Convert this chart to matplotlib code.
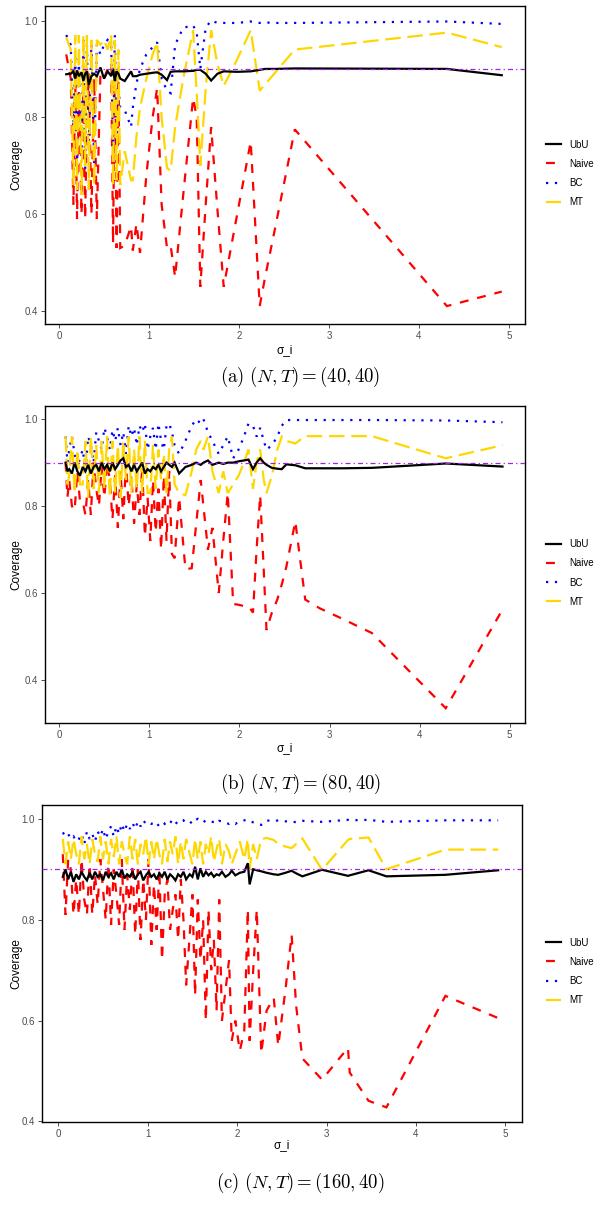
import matplotlib
matplotlib.use('Agg')
import matplotlib.pyplot as plt
from matplotlib.lines import Line2D

plt.rcParams['font.family'] = ['Liberation Sans', 'DejaVu Sans']
plt.rcParams['mathtext.fontset'] = 'cm'

series_names = ['UbU', 'Naive', 'BC', 'MT']
y_ticks = [0.4, 0.6, 0.8, 1.0]
y_tick_labels = ['0.4', '0.6', '0.8', '1.0']
x_ticks = [0, 1, 2, 3, 4, 5]
x_tick_labels = ['0', '1', '2', '3', '4', '5']
target_level = 0.9
captions = [r'$\mathrm{(a)}\ (N,T) = (40,40)$',
            r'$\mathrm{(b)}\ (N,T) = (80,40)$',
            r'$\mathrm{(c)}\ (N,T) = (160,40)$']

# ---------------- panel (a) ----------------
xa = [0.08, 0.13, 0.16, 0.18, 0.20, 0.22, 0.25, 0.27, 0.29, 0.31,
      0.33, 0.36, 0.39, 0.42, 0.46, 0.50, 0.54, 0.58, 0.60, 0.62,
      0.64, 0.66, 0.68, 0.73, 0.80, 0.82, 0.86, 0.90, 0.97, 1.04,
      1.09, 1.14, 1.20, 1.24, 1.29, 1.38, 1.49, 1.53, 1.57, 1.63,
      1.69, 1.76, 1.83, 1.98, 2.13, 2.23, 2.29, 2.40, 2.62, 4.31,
      4.92]
ubu_a = [0.889, 0.890, 0.895, 0.880, 0.897, 0.885, 0.893, 0.875, 0.890, 0.895,
         0.867, 0.885, 0.890, 0.885, 0.903, 0.880, 0.895, 0.885, 0.900, 0.875,
         0.895, 0.890, 0.880, 0.875, 0.895, 0.885, 0.885, 0.888, 0.890, 0.892,
         0.893, 0.888, 0.877, 0.894, 0.895, 0.895, 0.896, 0.898, 0.898, 0.890,
         0.876, 0.890, 0.895, 0.894, 0.895, 0.898, 0.900, 0.900, 0.901, 0.900,
         0.887]
naive_a = [0.93, 0.88, 0.62, 0.88, 0.59, 0.86, 0.60, 0.87, 0.59, 0.80,
           0.89, 0.60, 0.88, 0.59, 0.89, 0.88, 0.90, 0.91, 0.54, 0.89,
           0.53, 0.88, 0.53, 0.535, 0.575, 0.525, 0.58, 0.52, 0.68, 0.80,
           0.86, 0.62, 0.53, 0.535, 0.47, 0.64, 0.84, 0.80, 0.45, 0.62,
           0.78, 0.61, 0.45, 0.60, 0.75, 0.41, 0.47, 0.57, 0.775, 0.41,
           0.44]
bc_a = [0.97, 0.95, 0.78, 0.93, 0.70, 0.92, 0.72, 0.96, 0.69, 0.95,
        0.74, 0.96, 0.70, 0.95, 0.93, 0.95, 0.96, 0.95, 0.72, 0.97,
        0.74, 0.86, 0.82, 0.815, 0.78, 0.82, 0.87, 0.90, 0.93, 0.945,
        0.955, 0.88, 0.855, 0.85, 0.95, 0.985, 0.99, 0.975, 0.90, 0.985,
        1.0, 0.995, 0.995, 0.995, 0.998, 0.995, 0.996, 0.995, 0.995, 0.998,
        0.993]
mt_a = [0.965, 0.94, 0.66, 0.97, 0.65, 0.97, 0.64, 0.97, 0.70, 0.97,
        0.65, 0.96, 0.66, 0.96, 0.95, 0.96, 0.94, 0.97, 0.66, 0.96,
        0.67, 0.94, 0.66, 0.73, 0.67, 0.67, 0.76, 0.82, 0.88, 0.93,
        0.955, 0.80, 0.695, 0.69, 0.78, 0.88, 0.98, 0.85, 0.70, 0.86,
        0.98, 0.91, 0.865, 0.92, 0.98, 0.855, 0.868, 0.892, 0.94, 0.975,
        0.945]

# ---------------- panel (b) ----------------
xb = [0.07, 0.09, 0.11, 0.14, 0.17, 0.20, 0.23, 0.26, 0.29, 0.32,
      0.35, 0.38, 0.41, 0.44, 0.47, 0.50, 0.53, 0.56, 0.59, 0.62,
      0.65, 0.68, 0.71, 0.74, 0.77, 0.80, 0.83, 0.86, 0.89, 0.92,
      0.95, 0.98, 1.01, 1.04, 1.07, 1.10, 1.13, 1.16, 1.19, 1.22,
      1.25, 1.28, 1.33, 1.40, 1.47, 1.52, 1.57, 1.60, 1.65, 1.70,
      1.77, 1.82, 1.87, 1.93, 1.99, 2.05, 2.10, 2.15, 2.19, 2.23,
      2.27, 2.30, 2.36, 2.42, 2.47, 2.52, 2.62, 2.73, 2.89, 3.15,
      3.47, 4.29, 4.92]
ubu_b = [0.90, 0.88, 0.885, 0.875, 0.90, 0.88, 0.87, 0.89, 0.88, 0.895,
         0.875, 0.89, 0.895, 0.88, 0.90, 0.885, 0.895, 0.88, 0.90, 0.885,
         0.895, 0.905, 0.91, 0.89, 0.895, 0.88, 0.895, 0.88, 0.89, 0.90,
         0.875, 0.885, 0.88, 0.89, 0.885, 0.895, 0.88, 0.89, 0.90, 0.895,
         0.89, 0.90, 0.875, 0.89, 0.895, 0.90, 0.895, 0.90, 0.905, 0.895,
         0.90, 0.897, 0.90, 0.90, 0.903, 0.905, 0.907, 0.885, 0.90, 0.91,
         0.90, 0.895, 0.888, 0.886, 0.885, 0.896, 0.894, 0.887, 0.887, 0.887,
         0.888, 0.898, 0.891]
naive_b = [0.90, 0.82, 0.86, 0.80, 0.79, 0.88, 0.81, 0.81, 0.78, 0.86,
           0.78, 0.90, 0.84, 0.80, 0.89, 0.82, 0.90, 0.86, 0.77, 0.87,
           0.75, 0.88, 0.77, 0.90, 0.80, 0.87, 0.76, 0.85, 0.78, 0.89,
           0.73, 0.82, 0.72, 0.86, 0.74, 0.84, 0.70, 0.87, 0.72, 0.88,
           0.69, 0.68, 0.82, 0.655, 0.657, 0.76, 0.86, 0.80, 0.70, 0.75,
           0.60, 0.72, 0.83, 0.575, 0.573, 0.57, 0.57, 0.555, 0.70, 0.825,
           0.65, 0.515, 0.555, 0.585, 0.62, 0.66, 0.765, 0.585, 0.565, 0.54,
           0.508, 0.335, 0.562]
bc_b = [0.96, 0.90, 0.93, 0.96, 0.92, 0.89, 0.91, 0.93, 0.88, 0.96,
        0.94, 0.90, 0.97, 0.95, 0.93, 0.98, 0.96, 0.93, 0.975, 0.95,
        0.98, 0.94, 0.97, 0.92, 0.985, 0.96, 0.98, 0.94, 0.985, 0.97,
        0.99, 0.93, 0.96, 0.98, 0.93, 0.99, 0.95, 0.93, 0.985, 0.99,
        0.97, 0.94, 0.92, 0.95, 0.985, 1.0, 0.99, 1.0, 0.97, 0.95,
        0.92, 0.94, 0.96, 0.91, 0.93, 0.96, 0.99, 0.985, 0.96, 0.98,
        0.95, 0.93, 0.94, 0.96, 0.985, 0.998, 0.998, 0.998, 0.998, 0.998,
        0.998, 0.997, 0.993]
mt_b = [0.96, 0.85, 0.87, 0.96, 0.83, 0.93, 0.85, 0.85, 0.95, 0.82,
        0.96, 0.84, 0.94, 0.83, 0.95, 0.84, 0.96, 0.82, 0.95, 0.83,
        0.94, 0.82, 0.95, 0.86, 0.96, 0.83, 0.93, 0.84, 0.96, 0.83,
        0.95, 0.83, 0.83, 0.94, 0.84, 0.93, 0.86, 0.92, 0.83, 0.93,
        0.96, 0.85, 0.83, 0.825, 0.88, 0.93, 0.95, 0.93, 0.96, 0.88,
        0.83, 0.88, 0.83, 0.85, 0.87, 0.90, 0.93, 0.84, 0.90, 0.93,
        0.86, 0.83, 0.87, 0.93, 0.96, 0.95, 0.944, 0.961, 0.961, 0.961,
        0.961, 0.91, 0.94]

# ---------------- panel (c) ----------------
xc = [0.05, 0.08, 0.11, 0.14, 0.17, 0.20, 0.23, 0.26, 0.29, 0.32,
      0.35, 0.38, 0.41, 0.44, 0.47, 0.50, 0.53, 0.56, 0.59, 0.62,
      0.65, 0.68, 0.71, 0.74, 0.77, 0.80, 0.83, 0.86, 0.89, 0.92,
      0.95, 0.98, 1.01, 1.04, 1.07, 1.10, 1.13, 1.16, 1.19, 1.22,
      1.25, 1.28, 1.31, 1.34, 1.37, 1.40, 1.43, 1.47, 1.50, 1.53,
      1.56, 1.59, 1.62, 1.65, 1.68, 1.71, 1.74, 1.77, 1.80, 1.83,
      1.87, 1.91, 1.94, 1.98, 2.03, 2.08, 2.12, 2.14, 2.18, 2.22,
      2.27, 2.33, 2.41, 2.46, 2.54, 2.61, 2.66, 2.73, 2.95, 3.24,
      3.26, 3.47, 3.67, 4.33, 4.92]
ubu_c = [0.885, 0.90, 0.88, 0.895, 0.875, 0.89, 0.88, 0.895, 0.885, 0.878,
         0.893, 0.88, 0.895, 0.885, 0.89, 0.878, 0.895, 0.885, 0.892, 0.88,
         0.895, 0.885, 0.90, 0.882, 0.89, 0.885, 0.895, 0.88, 0.89, 0.895,
         0.878, 0.888, 0.895, 0.885, 0.89, 0.88, 0.892, 0.885, 0.895, 0.88,
         0.89, 0.885, 0.878, 0.89, 0.885, 0.895, 0.88, 0.89, 0.885, 0.905,
         0.88, 0.902, 0.885, 0.895, 0.888, 0.893, 0.885, 0.89, 0.888, 0.895,
         0.885, 0.89, 0.897, 0.888, 0.893, 0.895, 0.912, 0.87, 0.90, 0.898,
         0.896, 0.893, 0.89, 0.889, 0.893, 0.897, 0.892, 0.886, 0.899, 0.887,
         0.888, 0.898, 0.886, 0.889, 0.898]
naive_c = [0.93, 0.81, 0.92, 0.90, 0.81, 0.88, 0.81, 0.92, 0.84, 0.81,
           0.91, 0.81, 0.89, 0.83, 0.92, 0.86, 0.80, 0.91, 0.79, 0.90,
           0.85, 0.79, 0.92, 0.78, 0.89, 0.82, 0.91, 0.77, 0.90, 0.76,
           0.88, 0.80, 0.92, 0.75, 0.87, 0.78, 0.90, 0.72, 0.85, 0.88,
           0.78, 0.82, 0.85, 0.76, 0.88, 0.80, 0.67, 0.77, 0.85, 0.65,
           0.84, 0.72, 0.80, 0.60, 0.82, 0.70, 0.76, 0.62, 0.84, 0.60,
           0.66, 0.72, 0.56, 0.60, 0.54, 0.58, 0.82, 0.56, 0.70, 0.82,
           0.535, 0.62, 0.645, 0.55, 0.66, 0.77, 0.63, 0.525, 0.483, 0.546,
           0.497, 0.441, 0.428, 0.649, 0.605]
bc_c = [0.973, 0.965, 0.97, 0.96, 0.965, 0.955, 0.96, 0.97, 0.95, 0.975,
        0.96, 0.97, 0.955, 0.975, 0.965, 0.98, 0.96, 0.975, 0.985, 0.965,
        0.985, 0.97, 0.99, 0.975, 0.99, 0.98, 0.992, 0.98, 0.995, 0.985,
        0.997, 0.99, 0.993, 0.99, 0.992, 0.985, 0.99, 0.995, 0.99, 0.996,
        0.992, 0.998, 0.99, 0.995, 0.993, 0.997, 0.992, 0.995, 0.99, 0.997,
        1.0, 0.995, 0.993, 0.997, 0.995, 0.995, 0.993, 0.99, 0.996, 0.995,
        0.992, 0.99, 0.993, 0.99, 0.995, 0.997, 0.998, 0.995, 0.993, 0.99,
        0.988, 0.997, 0.995, 0.997, 0.995, 0.995, 0.993, 0.996, 0.994, 0.998,
        0.997, 0.998, 0.994, 0.997, 0.997]
mt_c = [0.96, 0.91, 0.955, 0.92, 0.96, 0.93, 0.91, 0.965, 0.92, 0.95,
        0.91, 0.96, 0.93, 0.915, 0.965, 0.92, 0.955, 0.91, 0.96, 0.925,
        0.965, 0.91, 0.955, 0.93, 0.91, 0.965, 0.92, 0.96, 0.91, 0.95,
        0.93, 0.965, 0.91, 0.955, 0.92, 0.96, 0.93, 0.91, 0.96, 0.915,
        0.955, 0.93, 0.965, 0.91, 0.955, 0.92, 0.96, 0.93, 0.91, 0.96,
        0.92, 0.955, 0.91, 0.95, 0.93, 0.965, 0.915, 0.94, 0.96, 0.91,
        0.95, 0.935, 0.91, 0.93, 0.955, 0.92, 0.96, 0.90, 0.95, 0.92,
        0.96, 0.962, 0.958, 0.95, 0.945, 0.942, 0.95, 0.961, 0.899, 0.958,
        0.96, 0.963, 0.90, 0.939, 0.939]

panels = [
    dict(x=xa, ys=[ubu_a, naive_a, bc_a, mt_a], box=(45, 6, 525, 324),
         xlim=(-0.156, 5.178), ylim=(0.373, 1.030),
         xlab_y=350, cap_y=377, leg_y=173.5),
    dict(x=xb, ys=[ubu_b, naive_b, bc_b, mt_b], box=(45, 405.7, 525, 723),
         xlim=(-0.159, 5.170), ylim=(0.301, 1.031),
         xlab_y=748, cap_y=784, leg_y=573),
    dict(x=xc, ys=[ubu_c, naive_c, bc_c, mt_c], box=(41.7, 804.7, 522, 1122),
         xlim=(-0.186, 5.187), ylim=(0.399, 1.028),
         xlab_y=1145, cap_y=1183, leg_y=971.5),
]

W, H = 601, 1219
fig = plt.figure(figsize=(W / 100, H / 100), dpi=100)

lw = 1.6
styles = {
    'UbU': dict(color='black', linestyle='-', zorder=5),
    'Naive': dict(color='#FF0000', dashes=(4, 4), zorder=2),
    'BC': dict(color='#0000FF', dashes=(1, 3), zorder=3),
    'MT': dict(color='#FFD700', dashes=(7, 3), zorder=4),
}
draw_order = ['Naive', 'BC', 'MT', 'UbU']

for k, p in enumerate(panels):
    l, t, r, b = p['box']
    ax = fig.add_axes([l / W, 1 - b / H, (r - l) / W, (b - t) / H])
    for name in draw_order:
        i = series_names.index(name)
        ax.plot(p['x'], p['ys'][i], lw=lw, solid_joinstyle='miter',
                dash_joinstyle='miter', **styles[name])
    ax.axhline(target_level, color='#A020F0', lw=0.9,
               dashes=(4, 2.5, 1, 2.5), zorder=6)
    ax.set_xlim(*p['xlim'])
    ax.set_ylim(*p['ylim'])
    ax.set_xticks(x_ticks)
    ax.set_xticklabels(x_tick_labels)
    ax.set_yticks(y_ticks)
    ax.set_yticklabels(y_tick_labels)
    ax.tick_params(direction='out', length=3, width=0.6, color='#333333',
                   labelsize=7, labelcolor='#4D4D4D', pad=2)
    for s in ax.spines.values():
        s.set_color('black')
        s.set_linewidth(1.0)
    cx = (l + r) / 2
    fig.text(16 / W, 1 - ((t + b) / 2) / H, 'Coverage', rotation=90,
             ha='center', va='center', fontsize=8.5)
    fig.text(cx / W, 1 - p['xlab_y'] / H, 'σ_i', ha='center', va='center',
             fontsize=8.5)
    fig.text(300.5 / W, 1 - p['cap_y'] / H, captions[k], ha='center',
             va='center', fontsize=13.5)
    handles = [Line2D([], [], lw=lw, **{kk: vv for kk, vv in styles[n].items() if kk != 'zorder'})
               for n in series_names]
    fig.legend(handles, series_names, loc='center left',
               bbox_to_anchor=(546 / W, 1 - p['leg_y'] / H), frameon=False,
               fontsize=7, handlelength=1.55, handletextpad=0.8,
               labelspacing=0.95, borderpad=0, borderaxespad=0)

fig.savefig('out.png', dpi=100)
